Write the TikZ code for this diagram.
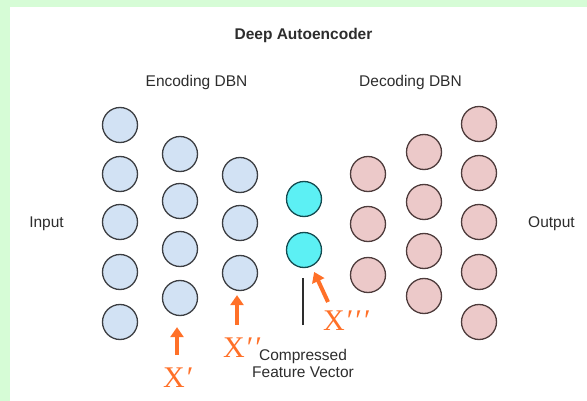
\documentclass[tikz,border=0pt]{standalone}
\usepackage{fontspec}
\setmainfont{Liberation Sans}
\newfontfamily\serifx{Liberation Serif}
\usetikzlibrary{arrows.meta}
\definecolor{bggreen}{RGB}{214,252,214}
\definecolor{encblue}{RGB}{210,226,244}
\definecolor{decpink}{RGB}{236,201,201}
\definecolor{codecyan}{RGB}{92,240,244}
\definecolor{xorange}{RGB}{255,112,40}
\definecolor{textgray}{RGB}{45,45,45}
\newcommand{\pr}{\kern2pt′}

\begin{document}
\begin{tikzpicture}[x=1pt, y=-1pt,
    baseunit/.style={circle, line width=1.3pt, minimum size=35pt, inner sep=0pt},
    encunit/.style={baseunit, fill=encblue, draw={rgb,255:red,60;green,62;blue,66}},
    decunit/.style={baseunit, fill=decpink, draw={rgb,255:red,78;green,60;blue,60}},
    codeunit/.style={baseunit, fill=codecyan, draw={rgb,255:red,20;green,75;blue,80}},
    txt/.style={text=textgray, inner sep=0pt, font=\fontsize{15.5}{17.5}\selectfont},
    primelabel/.style={xorange, inner sep=0pt, anchor=base west, font=\serifx\fontsize{30}{30}\selectfont},
    xarrow/.style={xorange, line width=4pt, -{Triangle[width=13pt,length=10pt]}}]
    \fill[bggreen] (0,0) rectangle (587,401);
    \fill[white] (10,7) rectangle (587,401);
    \useasboundingbox (0,0) rectangle (587,401);
    % titles
    \node[txt, anchor=base, font=\bfseries\fontsize{15.5}{17.5}\selectfont] (title) at (303.5,40) {Deep Autoencoder};
    \node[txt, anchor=base] (enc) at (196.5,87) {Encoding DBN};
    \node[txt, anchor=base] (dec) at (410.5,87) {Decoding DBN};
    \node[txt, anchor=base] (input) at (46.5,228) {Input};
    \node[txt, anchor=base] (output) at (551.5,228) {Output};
    % encoder layers
    \node[encunit] (A1) at (120,125) {};
    \node[encunit] (A2) at (120,174) {};
    \node[encunit] (A3) at (120,222) {};
    \node[encunit] (A4) at (120,272) {};
    \node[encunit] (A5) at (120,322) {};
    \node[encunit] (B1) at (180,154) {};
    \node[encunit] (B2) at (180,201) {};
    \node[encunit] (B3) at (180,249) {};
    \node[encunit] (B4) at (180,298) {};
    \node[encunit] (C1) at (240,175) {};
    \node[encunit] (C2) at (240,223) {};
    \node[encunit] (C3) at (240,273) {};
    % code layer
    \node[codeunit] (Z1) at (304,199) {};
    \node[codeunit] (Z2) at (304,250) {};
    % decoder layers
    \node[decunit] (D1) at (368,174) {};
    \node[decunit] (D2) at (368,224) {};
    \node[decunit] (D3) at (368,275) {};
    \node[decunit] (E1) at (424,152) {};
    \node[decunit] (E2) at (424,202) {};
    \node[decunit] (E3) at (424,251) {};
    \node[decunit] (E4) at (424,296) {};
    \node[decunit] (F1) at (479,124) {};
    \node[decunit] (F2) at (479,173) {};
    \node[decunit] (F3) at (479,222) {};
    \node[decunit] (F4) at (479,272) {};
    \node[decunit] (F5) at (479,322) {};
    % compressed feature vector
    \node[txt, align=center] (cfv) at (303,363.5) {Compressed\\Feature Vector};
    \coordinate (cfvtop) at (303,325);
    \draw[line width=1.2pt, textgray, shorten >=10pt] (cfvtop) -- (cfvtop |- Z2.south);
    % orange markers
    \node[primelabel] (X1) at (163,387) {X\pr};
    \node[primelabel] (X2) at (223,357) {X\pr\pr};
    \node[primelabel] (X3) at (323,330) {X\pr\pr\pr};
    \coordinate (X1tail) at (177,355);
    \coordinate (X2tail) at (237,325);
    \coordinate (X3tail) at (328,302);
    \draw[xarrow, shorten >=11pt] (X1tail) -- (X1tail |- B4.south);
    \draw[xarrow, shorten >=4pt] (X2tail) -- (X2tail |- C3.south);
    \draw[xarrow, shorten >=6pt] (X3tail) -- (Z2);
  \end{tikzpicture}
\end{document}
